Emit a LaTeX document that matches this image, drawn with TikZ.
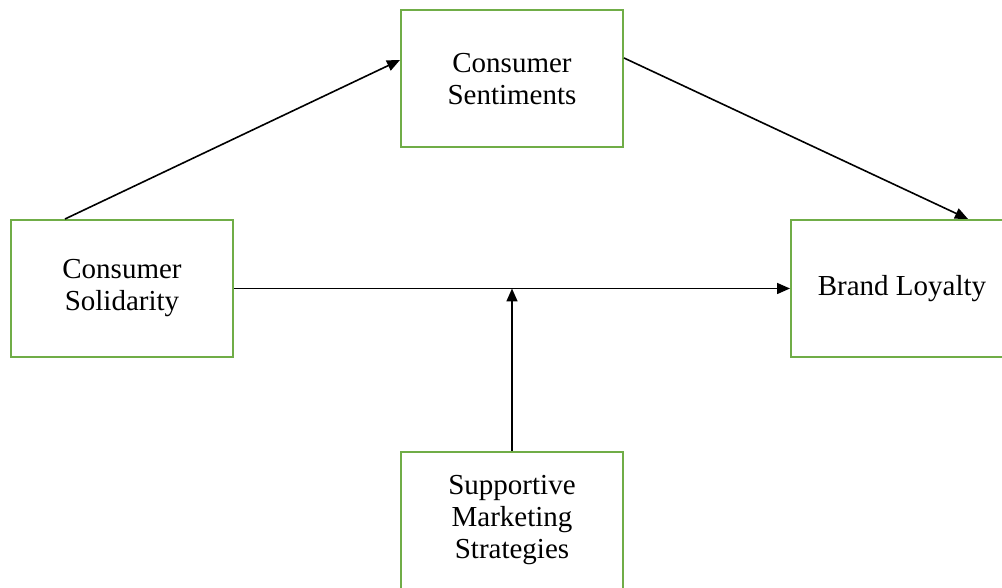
\documentclass[tikz,border=0pt]{standalone}
\usepackage{fontspec}
\setmainfont{Liberation Serif}
\usetikzlibrary{arrows.meta}
\definecolor{boxgreen}{HTML}{70AD47}
\begin{document}
\begin{tikzpicture}[x=1pt,y=1pt,
  box/.style={draw=boxgreen, line width=2pt, minimum width=222pt, minimum height=137pt,
    align=center, inner sep=0pt, font=\fontsize{29}{32}\selectfont},
  conn/.style={line width=1.6pt, -{Triangle[length=13pt,width=11pt]}}]
\useasboundingbox (0,0) rectangle (1002,588);
\clip (0,0) rectangle (1002,588);
\fill[white] (0,0) rectangle (1002,588);
\node[box] (sent) at (512,509) {Consumer\\Sentiments};
\node[box] (sol) at (122,299.5) {Consumer\\Solidarity};
\node[box] (brand) at (902,299.5) {Brand Loyalty};
\node[box, minimum height=137pt] (sup) at (512,67.5) {Supportive\\Marketing\\Strategies};
\coordinate (mid) at (sup.north |- sol.east);
\draw[conn] ([xshift=-57pt]sol.north) -- ([yshift=19pt]sent.west);
\draw[conn] ([yshift=21pt]sent.east) -- ([xshift=66pt]brand.north);
\draw[conn] (sol.east) -- (brand.west);
\draw[conn] (sup.north) -- (mid);
\end{tikzpicture}
\end{document}
